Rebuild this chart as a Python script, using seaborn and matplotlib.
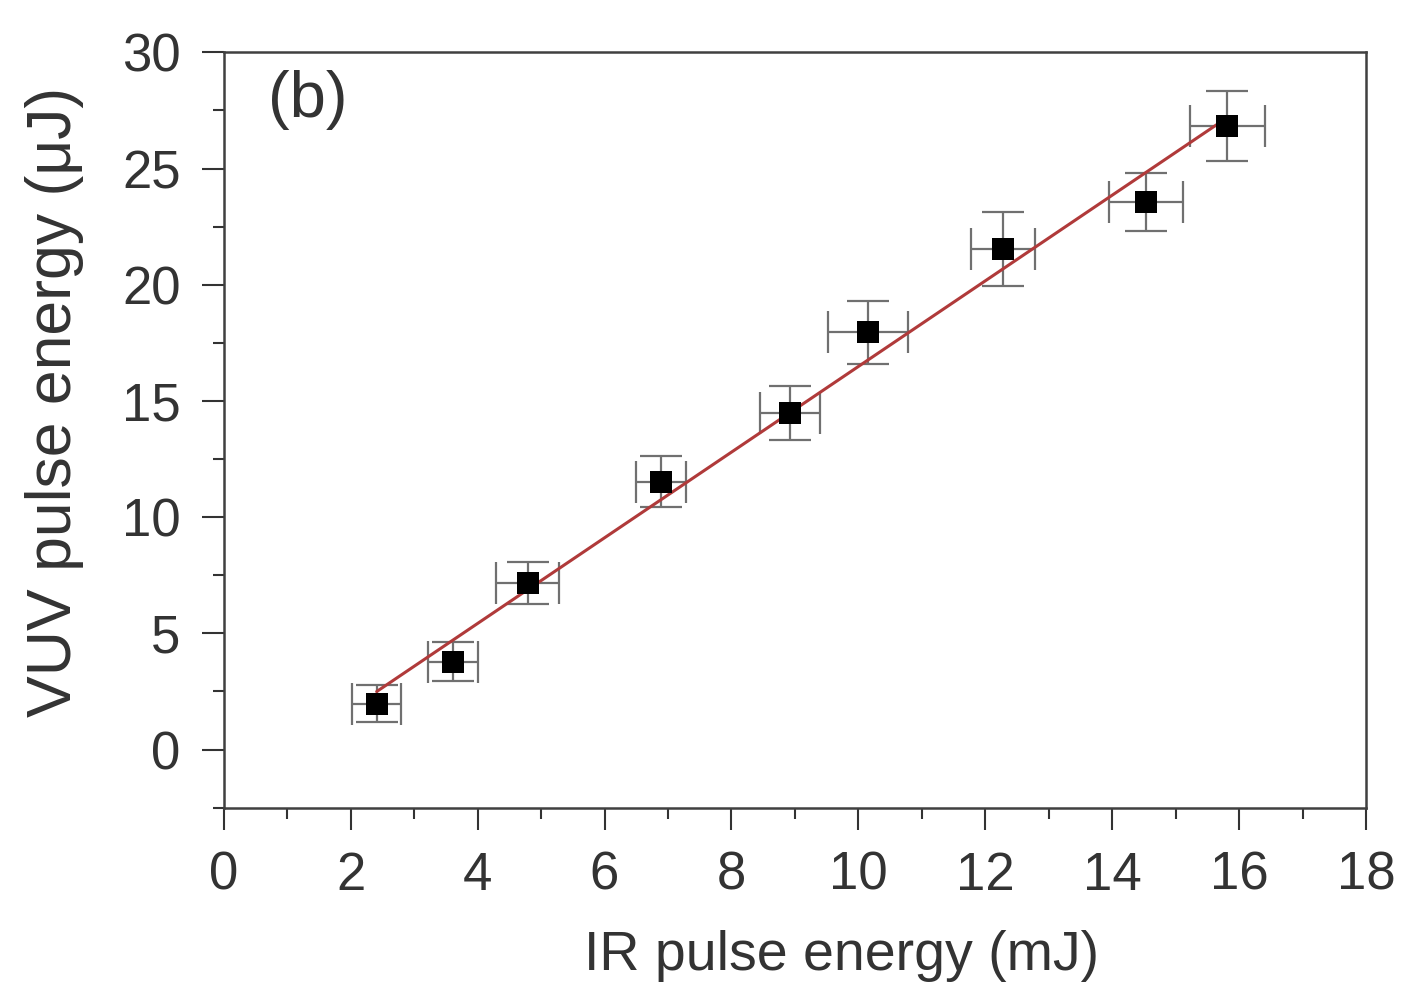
import numpy as np
import pandas as pd
import matplotlib
matplotlib.use("Agg")
import matplotlib.pyplot as plt
import seaborn as sns
from matplotlib.ticker import MultipleLocator

# IR pulse energy (mJ) and VUV pulse energy (uJ) with uncertainties
ir_energy = [2.41, 3.61, 4.79, 6.89, 8.92, 10.15, 12.28, 14.53, 15.81]
vuv_energy = [1.98, 3.78, 7.18, 11.52, 14.48, 17.96, 21.53, 23.55, 26.82]
ir_err = [0.39, 0.39, 0.50, 0.39, 0.47, 0.63, 0.50, 0.59, 0.59]
vuv_err = [0.80, 0.84, 0.90, 1.10, 1.18, 1.35, 1.60, 1.25, 1.50]

df = pd.DataFrame({"ir": ir_energy, "vuv": vuv_energy})

sns.set_style("ticks")
plt.rcParams['font.family'] = ['Liberation Sans', 'DejaVu Sans']

fig = plt.figure(figsize=(14.07, 10.07), dpi=100)
ax = fig.add_axes([0.159, 0.198, 0.812, 0.750])

# error bars
ax.errorbar(ir_energy, vuv_energy, xerr=ir_err, yerr=vuv_err, fmt='none',
            ecolor='#707070', elinewidth=1.6, capsize=15, capthick=1.6, zorder=2)

# linear fit
slope, intercept = np.polyfit(ir_energy, vuv_energy, 1)
fit_x = np.array([min(ir_energy), max(ir_energy)])
fit_df = pd.DataFrame({"ir": fit_x, "vuv": slope * fit_x + intercept})
sns.lineplot(data=fit_df, x="ir", y="vuv", ax=ax, color='#b03a3a', linewidth=2.2, zorder=3)

sns.scatterplot(data=df, x="ir", y="vuv", ax=ax, marker='s', s=260, color='black',
                edgecolor='black', linewidth=0, zorder=4)

ax.set_xlim(0, 18)
ax.set_ylim(-2.5, 30)
ax.xaxis.set_major_locator(MultipleLocator(2))
ax.xaxis.set_minor_locator(MultipleLocator(1))
ax.yaxis.set_major_locator(MultipleLocator(5))
ax.yaxis.set_minor_locator(MultipleLocator(2.5))
ax.tick_params(which='major', length=16, width=1.5, labelsize=38, colors='#333333')
ax.tick_params(which='minor', length=8, width=1.5, colors='#333333')
ax.tick_params(axis='x', which='major', pad=15)
ax.tick_params(axis='y', which='major', pad=15)
ax.tick_params(top=False, right=False)
for sp in ax.spines.values():
    sp.set_linewidth(1.8)
    sp.set_color('#404040')

ax.set_xlabel("IR pulse energy (mJ)", fontsize=40, color='#333333')
ax.set_ylabel("VUV pulse energy (μJ)", fontsize=45, color='#333333')
ax.xaxis.set_label_coords(0.541, -0.162)
ax.yaxis.set_label_coords(-0.122, 0.537)
ax.text(0.039, 0.937, "(b)", transform=ax.transAxes, fontsize=47, va='center', ha='left',
        color='#333333')

fig.savefig("out.png", dpi=100)
